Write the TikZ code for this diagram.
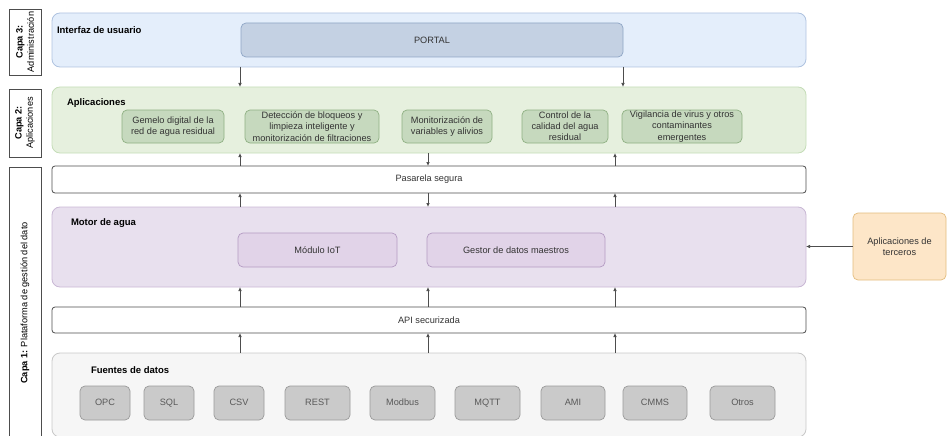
\documentclass[tikz,border=0pt]{standalone}
\usepackage{fontspec}
\setmainfont{Liberation Sans}
\usetikzlibrary{arrows.meta}
\definecolor{uiF}{HTML}{E4EEFB}\definecolor{uiD}{HTML}{AFC3E0}
\definecolor{poF}{HTML}{C4D1E3}\definecolor{poD}{HTML}{8FA6C6}
\definecolor{apF}{HTML}{E6F0DE}\definecolor{apD}{HTML}{C5DDB8}
\definecolor{abF}{HTML}{C6D9BE}\definecolor{abD}{HTML}{8FB083}
\definecolor{moF}{HTML}{E8E0EE}\definecolor{moD}{HTML}{C9B8D5}
\definecolor{mbF}{HTML}{E1D3E8}\definecolor{mbD}{HTML}{B49BC3}
\definecolor{fuF}{HTML}{F6F6F6}\definecolor{fuD}{HTML}{C8C8C8}
\definecolor{sbF}{HTML}{CACACA}\definecolor{sbD}{HTML}{9A9A9A}
\definecolor{teF}{HTML}{FDE6C8}\definecolor{teD}{HTML}{E3BC7E}
\definecolor{lineC}{HTML}{4D4D4D}
\definecolor{txt}{HTML}{333333}
\begin{document}
\begin{tikzpicture}[x=1pt,y=-1pt,
  every node/.style={font=\fontsize{9.2}{11.2}\selectfont, text=txt, inner sep=0pt, outer sep=0pt, align=center},
  panel/.style={draw=#1, line width=0.8pt, rounded corners=8pt},
  boxx/.style={draw=#1, line width=0.7pt, rounded corners=5pt},
  bar/.style={draw=lineC, fill=white, line width=0.8pt, rounded corners=3pt, minimum width=754pt},
  capa/.style={draw=lineC, fill=white, line width=0.8pt, minimum width=32pt},
  ttl/.style={font=\fontsize{9.5}{11}\selectfont\bfseries, anchor=west, text=black},
  srcbox/.style={boxx=sbD, fill=sbF, minimum height=34pt, text=black!65, text height=6.6pt, text depth=1.8pt},
  arr/.style={draw=lineC, line width=0.7pt, -{Latex[length=4pt,width=3.5pt]}}
]
\useasboundingbox (0,0) rectangle (948,436);
% left layer labels
\node[capa, minimum height=66pt] (cap3) at (25,42) {};
\node[rotate=90, text=black] at (cap3.center) {\textbf{Capa 3:}\\Administración};
\node[capa, minimum height=68pt] (cap2) at (25,123) {};
\node[rotate=90, text=black] at (cap2.center) {\textbf{Capa 2:}\\Aplicaciones};
\node[capa, minimum height=272pt] (cap1) at (25,303) {};
\node[rotate=90, text=black] at (cap1.center) {\textbf{Capa 1:} Plataforma de gestión del dato};
% Interfaz
\node[panel=uiD, fill=uiF, minimum width=754pt, minimum height=54pt] (ui) at (429,40) {};
\node[ttl] at (57,30) {Interfaz de usuario};
\node[boxx=poD, fill=poF, minimum width=382pt, minimum height=34pt] (portal) at (432,40) {PORTAL};
% Aplicaciones
\node[panel=apD, fill=apF, minimum width=754pt, minimum height=66pt] (apps) at (429,120) {};
\node[ttl] at (67,103) {Aplicaciones};
\node[boxx=abD, fill=abF, minimum width=102pt, minimum height=33pt] (a1) at (173,126.5) {Gemelo digital de la\\red de agua residual};
\node[boxx=abD, fill=abF, minimum width=134pt, minimum height=33pt] (a2) at (312,126.5) {Detección de bloqueos y\\limpieza inteligente y\\monitorización de filtraciones};
\node[boxx=abD, fill=abF, minimum width=90pt, minimum height=33pt] (a3) at (447,126.5) {Monitorización de\\variables y alivios};
\node[boxx=abD, fill=abF, minimum width=86pt, minimum height=33pt] (a4) at (565,126.5) {Control de la\\calidad del agua\\residual};
\node[boxx=abD, fill=abF, minimum width=120pt, minimum height=33pt] (a5) at (682,126.5) {Vigilancia de virus y otros\\contaminantes\\emergentes};
% Pasarela
\node[bar, minimum height=27pt] (pas) at (429,179.5) {Pasarela segura};
% Motor
\node[panel=moD, fill=moF, minimum width=754pt, minimum height=80pt] (motor) at (429,247) {};
\node[ttl] at (71,223) {Motor de agua};
\node[boxx=mbD, fill=mbF, minimum width=159pt, minimum height=34pt] (iot) at (317.5,250) {Módulo IoT};
\node[boxx=mbD, fill=mbF, minimum width=178pt, minimum height=34pt] (gestor) at (516,250) {Gestor de datos maestros};
% API
\node[bar, minimum height=26pt] (api) at (429,320) {API securizada};
% Fuentes
\node[panel=fuD, fill=fuF, minimum width=754pt, minimum height=84pt] (fuentes) at (429,395) {};
\node[ttl] at (91,370) {Fuentes de datos};
\foreach \n/\x/\w/\t in {s1/105/50/OPC, s2/169/50/SQL, s3/239/50/CSV, s4/317.5/65/REST, s5/402.5/65/Modbus, s6/487.5/65/MQTT, s7/573/64/AMI, s8/655/64/CMMS, s9/742.5/65/Otros}
  \node[srcbox, minimum width=\w pt] (\n) at (\x,403) {\t};
% Terceros
\node[boxx=teD, fill=teF, minimum width=93pt, minimum height=67pt] (terc) at (899.5,246.5) {Aplicaciones de\\terceros};
% connector x positions
\coordinate (xa) at (240,0);
\coordinate (xb) at (428,0);
\coordinate (xc) at (615,0);
\coordinate (xd) at (623,0);
% arrows
\draw[arr] (ui.south -| xa) -- (apps.north -| xa);
\draw[arr] (ui.south -| xd) -- (apps.north -| xd);
\draw[arr] (pas.north -| xa) -- (apps.south -| xa);
\draw[arr] (apps.south -| xb) -- (pas.north -| xb);
\draw[arr] (pas.north -| xc) -- (apps.south -| xc);
\draw[arr] (motor.north -| xa) -- (pas.south -| xa);
\draw[arr] (pas.south -| xb) -- (motor.north -| xb);
\draw[arr] (motor.north -| xc) -- (pas.south -| xc);
\foreach \c in {xa,xb,xc} {
  \draw[arr] (api.north -| \c) -- (motor.south -| \c);
  \draw[arr] (fuentes.north -| \c) -- (api.south -| \c);
}
\draw[arr] (terc.west) -- (terc.west -| motor.east);
\end{tikzpicture}
\end{document}
